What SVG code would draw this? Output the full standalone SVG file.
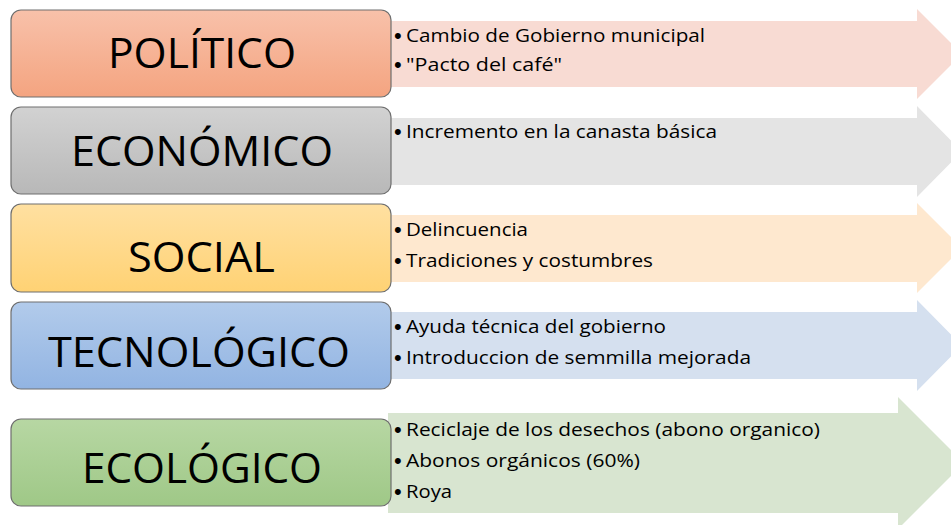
<svg xmlns="http://www.w3.org/2000/svg" width="951" height="525" viewBox="0 0 951 525">
<style>
.box{stroke:#6e6e6e;stroke-width:1.2}
.big{font-family:"Open Sans","Noto Sans",sans-serif;font-size:42px;fill:#000;text-anchor:middle}
.sm{font-family:"Open Sans","Noto Sans",sans-serif;font-size:19px;fill:#000}
.bu{font-family:"Liberation Sans",Arial,sans-serif;font-size:22px;fill:#000}
</style>
<defs>
<linearGradient id="gP" x1="0" y1="0" x2="0" y2="1"><stop offset="0" stop-color="#f8c1aa"/><stop offset="1" stop-color="#f4a480"/></linearGradient>
<linearGradient id="gE" x1="0" y1="0" x2="0" y2="1"><stop offset="0" stop-color="#d2d2d2"/><stop offset="1" stop-color="#b8b8b8"/></linearGradient>
<linearGradient id="gS" x1="0" y1="0" x2="0" y2="1"><stop offset="0" stop-color="#ffe0a1"/><stop offset="1" stop-color="#ffd274"/></linearGradient>
<linearGradient id="gT" x1="0" y1="0" x2="0" y2="1"><stop offset="0" stop-color="#b2cbeb"/><stop offset="1" stop-color="#92b4e2"/></linearGradient>
<linearGradient id="gC" x1="0" y1="0" x2="0" y2="1"><stop offset="0" stop-color="#b7d7a3"/><stop offset="1" stop-color="#9fc887"/></linearGradient>
</defs>
<g id="connectors">
<polygon fill="#f8dbd3" points="388,21 917,21 917,9 962,54 917,99 917,87 388,87"/>
<polygon fill="#e4e4e4" points="388,118 917,118 917,106 962,151.5 917,197 917,185 388,185"/>
<polygon fill="#fee8cf" points="388,215 917,215 917,203 962,248 917,293 917,282 388,282"/>
<polygon fill="#d5e0ef" points="388,312 917,312 917,300 962,345.5 917,391 917,379 388,379"/>
<polygon fill="#d8e5d0" points="388,413 898,413 898,397 964,463 898,529 898,513 388,513"/>
</g>
<g id="politico">
<rect class="box" x="11" y="10" width="380" height="87" rx="10" fill="url(#gP)"/>
<text class="big" x="202" y="68" textLength="188" lengthAdjust="spacingAndGlyphs">POLÍTICO</text>
<text class="bu" x="394" y="43">•</text><text class="sm" x="406" y="42" textLength="299" lengthAdjust="spacingAndGlyphs">Cambio de Gobierno municipal</text>
<text class="bu" x="394" y="72">•</text><text class="sm" x="406" y="71" textLength="156" lengthAdjust="spacingAndGlyphs">"Pacto del café"</text>
</g>
<g id="economico">
<rect class="box" x="11" y="107" width="380" height="87" rx="10" fill="url(#gE)"/>
<text class="big" x="202" y="166" textLength="262" lengthAdjust="spacingAndGlyphs">ECONÓMICO</text>
<text class="bu" x="394" y="139">•</text><text class="sm" x="406" y="138" textLength="311" lengthAdjust="spacingAndGlyphs">Incremento en la canasta básica</text>
</g>
<g id="social">
<rect class="box" x="11" y="204" width="380" height="88" rx="10" fill="url(#gS)"/>
<text class="big" x="201.5" y="272" textLength="147" lengthAdjust="spacingAndGlyphs">SOCIAL</text>
<text class="bu" x="394" y="237">•</text><text class="sm" x="406" y="236" textLength="122" lengthAdjust="spacingAndGlyphs">Delincuencia</text>
<text class="bu" x="394" y="268">•</text><text class="sm" x="406" y="267" textLength="247" lengthAdjust="spacingAndGlyphs">Tradiciones y costumbres</text>
</g>
<g id="tecnologico">
<rect class="box" x="11" y="302" width="380" height="87" rx="10" fill="url(#gT)"/>
<text class="big" x="199" y="367" textLength="302" lengthAdjust="spacingAndGlyphs">TECNOLÓGICO</text>
<text class="bu" x="394" y="334">•</text><text class="sm" x="406" y="333" textLength="260" lengthAdjust="spacingAndGlyphs">Ayuda técnica del gobierno</text>
<text class="bu" x="394" y="365">•</text><text class="sm" x="406" y="364" textLength="345" lengthAdjust="spacingAndGlyphs">Introduccion de semmilla mejorada</text>
</g>
<g id="ecologico">
<rect class="box" x="11" y="419" width="380" height="87" rx="10" fill="url(#gC)"/>
<text class="big" x="202" y="483" textLength="240" lengthAdjust="spacingAndGlyphs">ECOLÓGICO</text>
<text class="bu" x="394" y="437">•</text><text class="sm" x="406" y="436" textLength="414" lengthAdjust="spacingAndGlyphs">Reciclaje de los desechos (abono organico)</text>
<text class="bu" x="394" y="468">•</text><text class="sm" x="406" y="467" textLength="234" lengthAdjust="spacingAndGlyphs">Abonos orgánicos (60%)</text>
<text class="bu" x="394" y="499">•</text><text class="sm" x="406" y="498" textLength="46" lengthAdjust="spacingAndGlyphs">Roya</text>
</g>
</svg>
